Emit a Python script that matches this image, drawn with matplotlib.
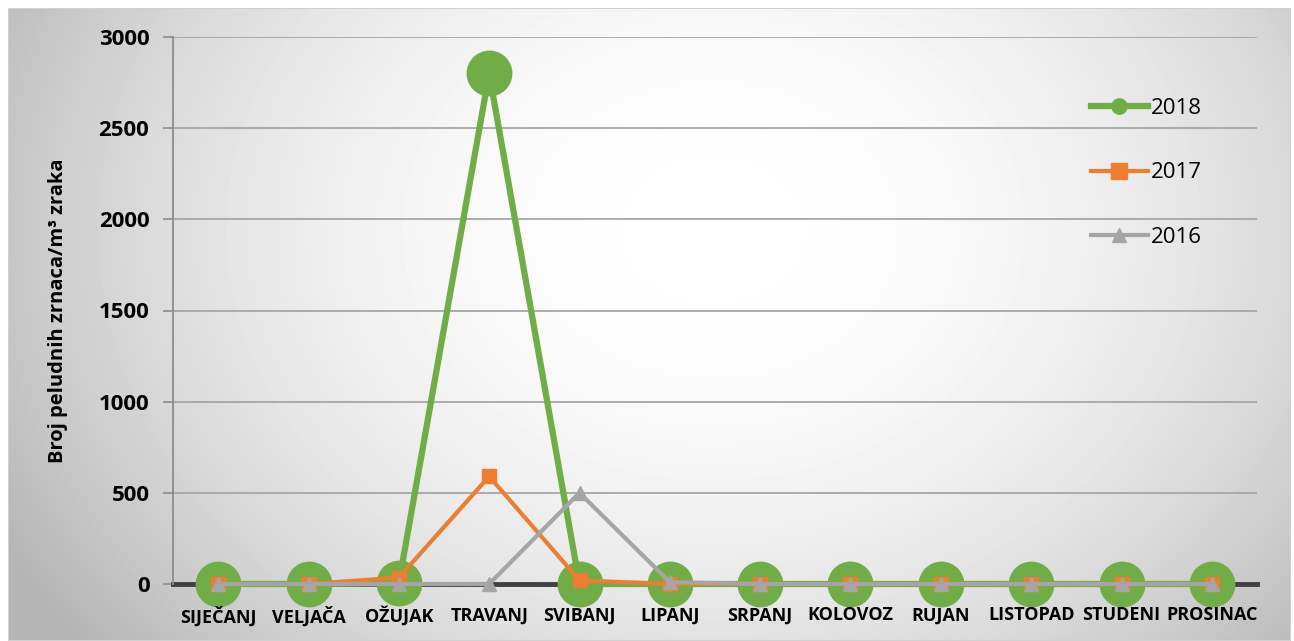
import numpy as np
import matplotlib
matplotlib.use("Agg")
import matplotlib.pyplot as plt
from matplotlib.patches import Rectangle

# data
months = ["SIJEČANJ", "VELJAČA", "OŽUJAK", "TRAVANJ", "SVIBANJ", "LIPANJ",
          "SRPANJ", "KOLOVOZ", "RUJAN", "LISTOPAD", "STUDENI", "PROSINAC"]
y2018 = [0, 0, 5, 2800, 0, 0, 0, 0, 0, 0, 0, 0]
y2017 = [0, 0, 35, 590, 20, 0, 0, 0, 0, 0, 0, 0]
y2016 = [0, 0, 0, 0, 500, 10, 0, 0, 0, 0, 0, 0]
yticks = [0, 500, 1000, 1500, 2000, 2500, 3000]

plt.rcParams['font.family'] = ['Open Sans', 'DejaVu Sans']

W, H = 1294, 641
fig = plt.figure(figsize=(W / 100, H / 100), dpi=100)
fig.patch.set_facecolor('white')

# radial grey background of the chart area
bg = fig.add_axes([8 / W, 0, 1 - 11 / W, 1 - 8 / H], zorder=-5)
gx, gy = np.meshgrid(np.linspace(0, 1, 400), np.linspace(0, 1, 200))
d = np.sqrt(((gx - 0.55) / 0.55) ** 2 + ((gy - 0.35) / 0.9) ** 2)
shade = 1.0 - 0.22 * np.clip(d, 0, 1.15) ** 2
bg.imshow(shade, cmap='gray', vmin=0, vmax=1, aspect='auto',
          extent=[0, 1, 1, 0], interpolation='bilinear')
bg.add_patch(Rectangle((0, 0), 1, 1, transform=bg.transAxes, fill=False,
                       ec='#d0d0d0', lw=1.5))
bg.axis('off')

ax = fig.add_axes([173 / W, 57 / H, (1257 - 173) / W, (584 - 37) / H])
ax.set_facecolor('none')
x = np.arange(len(months))

ax.plot(x, y2018, color='#70ad47', lw=4.5, marker='o', ms=32,
        label='2018', zorder=3, clip_on=False)
ax.plot(x, y2017, color='#ed7d31', lw=3, marker='s', ms=10,
        label='2017', zorder=4, clip_on=False)
ax.plot(x, y2016, color='#a5a5a5', lw=3, marker='^', ms=10.5,
        label='2016', zorder=5, clip_on=False)

ax.set_xlim(-0.5, len(months) - 0.5)
ax.set_ylim(0, 3000)
ax.set_yticks(yticks)
ax.set_yticklabels([str(v) for v in yticks], fontsize=16, fontweight='bold')
ax.set_xticks(x)
ax.set_xticklabels(months, fontsize=13, fontweight='bold')
ax.tick_params(axis='x', length=0, pad=16)
ax.tick_params(axis='y', length=7, width=1.2, color='#8c8c8c', pad=10)
ax.grid(axis='y', color='#a6a6a6', lw=1.3, zorder=0)
ax.set_axisbelow(True)
ax.xaxis.set_zorder(6)  # month names over the big circles

for s in ['top', 'right']:
    ax.spines[s].set_visible(False)
ax.spines['left'].set_color('#8c8c8c')
ax.spines['left'].set_linewidth(1.3)
ax.spines['bottom'].set_color('#404040')
ax.spines['bottom'].set_linewidth(3.5)
ax.spines['bottom'].set_zorder(2)

ax.set_ylabel('Broj peludnih zrnaca/m³ zraka', fontsize=14.5,
              fontweight='bold', labelpad=22)

leg = ax.legend(loc='upper left', bbox_to_anchor=(0.828, 0.925), frameon=False,
                fontsize=16, labelspacing=1.95, handlelength=2.6,
                handletextpad=0.1)
for h, ms in zip(leg.legend_handles, [11, 12, 10]):
    h.set_markersize(ms)

fig.savefig('out.png', dpi=100)
